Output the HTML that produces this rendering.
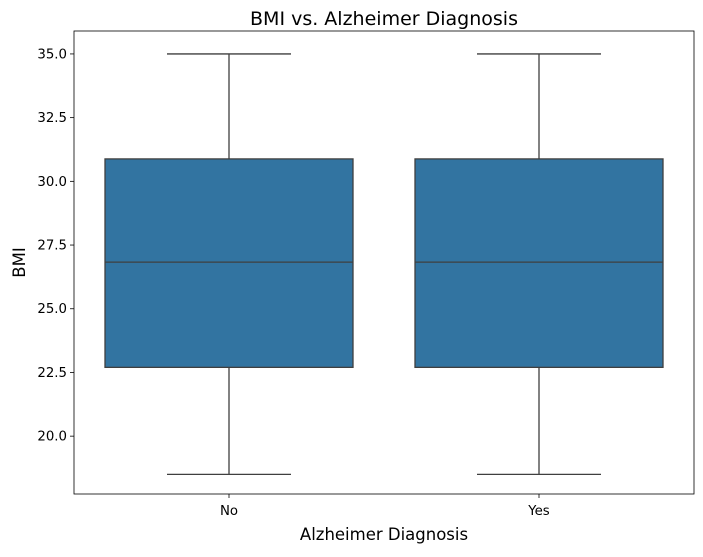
<!DOCTYPE html>
<html><head><meta charset="utf-8"><style>
body{margin:0;background:#fff;font-family:"Liberation Sans","DejaVu Sans",sans-serif;}
</style></head><body>
<svg id="chart" width="703" height="552" xmlns="http://www.w3.org/2000/svg" font-family="DejaVu Sans, Liberation Sans, sans-serif"></svg>
<script>
const categories=["No","Yes"];
const whiskerLow=[18.5,18.5];
const q1=[22.7,22.7];
const median=[26.83,26.83];
const q3=[30.88,30.88];
const whiskerHigh=[35.0,35.0];
const yTicks=[20.0,22.5,25.0,27.5,30.0,32.5,35.0];

const L=74,R=694,T=31,B=494;
const yMin=17.73,yMax=35.9;
const y=v=>B-(v-yMin)/(yMax-yMin)*(B-T);
const x=i=>L+(i+0.5)/categories.length*(R-L);
const step=(R-L)/categories.length;
const svg=document.getElementById('chart');
const NS="http://www.w3.org/2000/svg";
function mk(t,a,p){const e=document.createElementNS(NS,t);for(const k in a)e.setAttribute(k,a[k]);(p||svg).appendChild(e);return e;}

const title=mk('text',{x:(L+R)/2,y:25,'text-anchor':'middle','font-size':19,fill:'#000'});
title.textContent="BMI vs. Alzheimer Diagnosis";



yTicks.forEach(v=>{
  const tk=mk('line',{x1:L-4,x2:L,y1:y(v),y2:y(v),stroke:'#000','stroke-width':0.8});
  
  
  const t=mk('text',{x:L-7,y:y(v)+4.5,'text-anchor':'end','font-size':13.3,fill:'#000'});
  t.textContent=v.toFixed(1);
  
  
});

categories.forEach((c,i)=>{
  const cx=x(i),bw=step*0.8,cw=bw/2;
  const g=mk('g',{});
  
  
  const st={stroke:'#3f3f3f','stroke-width':1.3};
  mk('line',Object.assign({x1:cx,x2:cx,y1:y(whiskerLow[i]),y2:y(q1[i])},st),g);
  mk('line',Object.assign({x1:cx,x2:cx,y1:y(q3[i]),y2:y(whiskerHigh[i])},st),g);
  mk('line',Object.assign({x1:cx-cw/2,x2:cx+cw/2,y1:y(whiskerLow[i]),y2:y(whiskerLow[i])},st),g);
  mk('line',Object.assign({x1:cx-cw/2,x2:cx+cw/2,y1:y(whiskerHigh[i]),y2:y(whiskerHigh[i])},st),g);
  mk('rect',Object.assign({x:cx-bw/2,y:y(q3[i]),width:bw,height:y(q1[i])-y(q3[i]),fill:'#3274a1'},st),g);
  mk('line',Object.assign({x1:cx-bw/2,x2:cx+bw/2,y1:y(median[i]),y2:y(median[i])},st),g);
  const tk=mk('line',{x1:cx,x2:cx,y1:B,y2:B+4,stroke:'#000','stroke-width':0.8});
  
  
  const t=mk('text',{x:cx,y:B+21,'text-anchor':'middle','font-size':13.3,fill:'#000'});
  t.textContent=c;
  
  
});

const frame=mk('rect',{x:L,y:T,width:R-L,height:B-T,fill:'none',stroke:'#000','stroke-width':0.8});



const xt=mk('text',{x:(L+R)/2,y:540,'text-anchor':'middle','font-size':16.5,fill:'#000'});
xt.textContent="Alzheimer Diagnosis";


const yt=mk('text',{x:0,y:0,'text-anchor':'middle','font-size':16.5,fill:'#000',transform:`translate(25,${(T+B)/2}) rotate(-90)`});
yt.textContent="BMI";


</script>
</body></html>
